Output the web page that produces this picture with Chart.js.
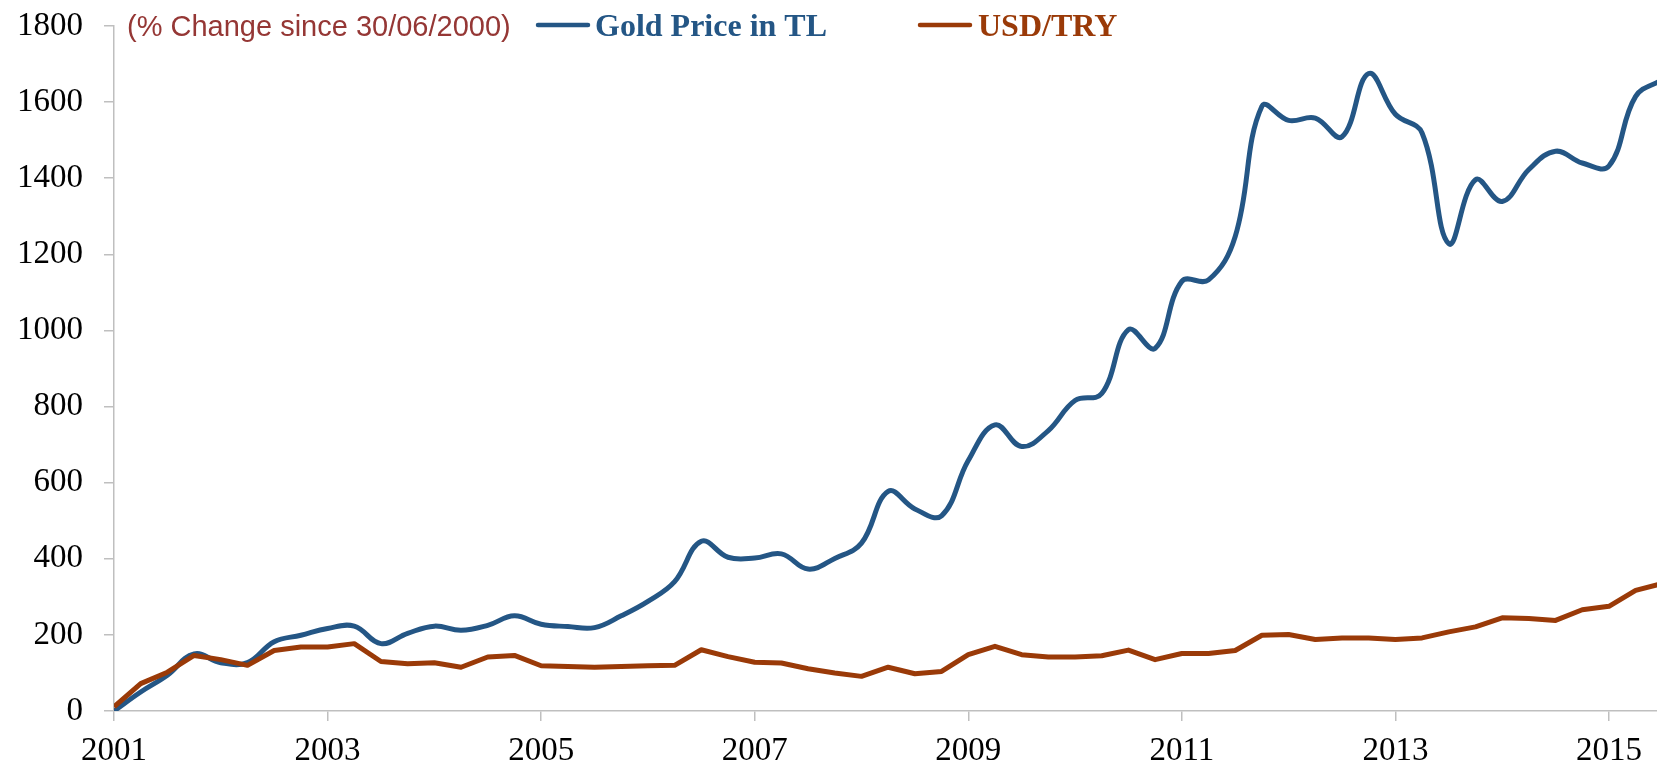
<!DOCTYPE html>
<html>
<head>
<meta charset="utf-8">
<script src="https://cdn.jsdelivr.net/npm/chart.js@4"></script>
<style>
  html, body { margin: 0; padding: 0; background: #fff; overflow: hidden; }
  #wrap { width: 1657px; height: 768px; position: relative; }
</style>
</head>
<body>
<div id="wrap"><canvas id="c" width="1657" height="768"></canvas></div>
<script>
// Quarterly observations (decimal year)
const years = [
  2001.00, 2001.25, 2001.50, 2001.75, 2002.00, 2002.25, 2002.50, 2002.75,
  2003.00, 2003.25, 2003.50, 2003.75, 2004.00, 2004.25, 2004.50, 2004.75,
  2005.00, 2005.25, 2005.50, 2005.75, 2006.00, 2006.25, 2006.50, 2006.75,
  2007.00, 2007.25, 2007.50, 2007.75, 2008.00, 2008.25, 2008.50, 2008.75,
  2009.00, 2009.25, 2009.50, 2009.75, 2010.00, 2010.25, 2010.50, 2010.75,
  2011.00, 2011.25, 2011.50, 2011.75, 2012.00, 2012.25, 2012.50, 2012.75,
  2013.00, 2013.25, 2013.50, 2013.75, 2014.00, 2014.25, 2014.50, 2014.75,
  2015.00, 2015.25, 2015.50
];

// % change since 30/06/2000
const goldPriceTL = [
  0, 50, 94, 150, 127, 127, 182, 199,
  217, 223, 177, 204, 223, 212, 225, 250,
  228, 222, 219, 250, 288, 340, 446, 404,
  402, 413, 373, 401, 441, 577, 531, 513,
  658, 752, 695, 737, 816, 834, 1002, 953,
  1129, 1133, 1247, 1589, 1552, 1558, 1509, 1675,
  1568, 1519, 1228, 1396, 1339, 1423, 1471, 1440,
  1432, 1615, 1659
];

const usdTry = [
  11, 72, 102, 146, 135, 120, 159, 168,
  168, 177, 130, 124, 127, 115, 142, 146,
  119, 117, 115, 117, 119, 120, 161, 143,
  128, 126, 111, 100, 91, 115, 98, 104,
  148, 170, 148, 142, 142, 145, 160, 135,
  151, 151, 159, 199, 201, 188, 192, 192,
  188, 192, 208, 221, 245, 243, 238, 266,
  275, 317, 335
];

const seriesNames = ['Gold Price in TL', 'USD/TRY'];
const subtitleText = '(% Change since 30/06/2000)';
const xTickYears = [2001, 2003, 2005, 2007, 2009, 2011, 2013, 2015];

const BLUE = '#245685';
const ORANGE = '#9A3A08';
const AXIS = '#BFBFBF';

const customLegend = {
  id: 'customLegend',
  afterDraw(chart) {
    const c = chart.ctx;
    c.save();
    c.textBaseline = 'alphabetic';
    c.textAlign = 'left';
    c.font = '29px "Liberation Sans"';
    c.fillStyle = '#953735';
    c.fillText(subtitleText, 127, 36);

    const items = [
      { name: seriesNames[0], color: BLUE, x0: 538, x1: 588, tx: 595 },
      { name: seriesNames[1], color: ORANGE, x0: 920, x1: 970, tx: 978 }
    ];
    items.forEach(it => {
      c.strokeStyle = it.color;
      c.lineWidth = 4.5;
      c.lineCap = 'round';
      c.beginPath();
      c.moveTo(it.x0, 25);
      c.lineTo(it.x1, 25);
      c.stroke();
      c.font = 'bold 32px "Liberation Serif"';
      c.fillStyle = it.color;
      c.fillText(it.name, it.tx, 36);
    });
    c.restore();
  }
};

const tickFont = { family: 'Liberation Serif', size: 33 };

new Chart(document.getElementById('c'), {
  type: 'line',
  data: {
    datasets: [
      {
        label: seriesNames[0],
        data: years.map((x, i) => ({ x, y: goldPriceTL[i] })),
        borderColor: BLUE,
        borderWidth: 5,
        pointRadius: 0,
        tension: 0.4,
        fill: false,
        order: 1
      },
      {
        label: seriesNames[1],
        data: years.map((x, i) => ({ x, y: usdTry[i] })),
        borderColor: ORANGE,
        borderWidth: 5,
        pointRadius: 0,
        tension: 0,
        borderJoinStyle: 'round',
        fill: false,
        order: 0
      }
    ]
  },
  options: {
    responsive: false,
    animation: false,
    devicePixelRatio: 1,
    layout: { padding: { top: 26, left: 0, right: 0, bottom: 0 } },
    plugins: { legend: { display: false }, tooltip: { enabled: false } },
    scales: {
      x: {
        type: 'linear',
        min: 2001,
        max: 2015.45,
        afterBuildTicks: s => { s.ticks = xTickYears.map(v => ({ value: v })); },
        afterFit: s => { s.height = 57; s.paddingLeft = 0; s.paddingRight = 0; },
        ticks: {
          font: tickFont, color: '#000', padding: 11,
          autoSkip: false, maxRotation: 0,
          callback: v => String(v)
        },
        grid: { drawOnChartArea: false, drawTicks: true, tickLength: 10, color: AXIS, lineWidth: 1.5 },
        border: { display: true, color: AXIS, width: 1.5 }
      },
      y: {
        min: 0,
        max: 1800,
        afterFit: s => { s.width = 114; s.paddingTop = 0; s.paddingBottom = 0; },
        ticks: { stepSize: 200, font: tickFont, color: '#000', padding: 21, callback: v => String(v) },
        grid: { drawOnChartArea: false, drawTicks: true, tickLength: 10, color: AXIS, lineWidth: 1.5 },
        border: { display: true, color: AXIS, width: 1.5 }
      }
    }
  },
  plugins: [customLegend]
});
</script>
</body>
</html>
